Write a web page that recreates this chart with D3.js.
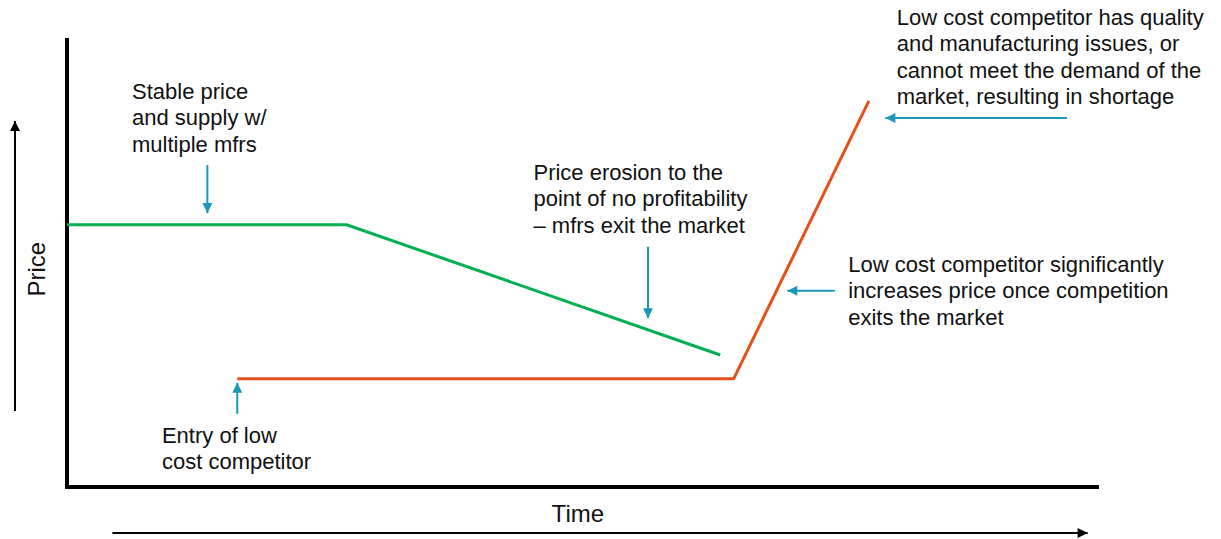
<!DOCTYPE html>
<html>
<head>
<meta charset="utf-8">
<script src="https://cdn.jsdelivr.net/npm/d3@7"></script>
<style>
  body { margin: 0; background: #fff; }
  svg text { font-family: "Liberation Sans", Arial, sans-serif; fill: #111; }
</style>
</head>
<body>
<script>
"use strict";

// series in abstract time / price units (0-100)
var greenTime = [0, 27.1, 63.3];
var greenPrice = [58.4, 58.4, 29.4];
var orangeTime = [16.5, 64.6, 77.7];
var orangePrice = [24.1, 24.1, 86.0];

// callout arrows: [x1, y1, x2, y2] in the same units, head at (x2,y2)
var calloutArrows = [
  [13.6, 71.7, 13.6, 61.0],
  [56.3, 53.5, 56.3, 37.6],
  [16.5, 16.3, 16.5, 23.2],
  [74.4, 43.7, 69.8, 43.7],
  [96.9, 82.2, 79.3, 82.2]
];

// callout texts: left x, first baseline y, lines
var calloutX = [6.3, 45.2, 9.2, 75.7, 80.4];
var calloutY = [86.5, 68.4, 9.8, 47.9, 102.9];
var calloutLines = [
  ["Stable price", "and supply w/", "multiple mfrs"],
  ["Price erosion to the", "point of no profitability", "\u2013 mfrs exit the market"],
  ["Entry of low", "cost competitor"],
  ["Low cost competitor significantly", "increases price once competition", "exits the market"],
  ["Low cost competitor has quality", "and manufacturing issues, or", "cannot meet the demand of the", "market, resulting in shortage"]
];

var axisLabels = ["Price", "Time"];

var width = 1221;
var height = 539;

var margin = { top: 38, left: 67, right: 122, bottom: 52 };

var xScale = d3.scaleLinear().domain([0, 100]).range([margin.left, width - margin.right]);
var yScale = d3.scaleLinear().domain([0, 100]).range([height - margin.bottom, margin.top]);

var green = "#00b050";
var orange = "#e5501c";
var teal = "#1b97ba";

var svg = d3.select("body").append("svg")
  .attr("width", width)
  .attr("height", height);

var defs = svg.append("defs");

function addHead(id, color, w, h) {
  defs.append("marker")
    .attr("id", id)
    .attr("viewBox", "0 0 10 10")
    .attr("refX", 10)
    .attr("refY", 5)
    .attr("markerUnits", "userSpaceOnUse")
    .attr("markerWidth", w)
    .attr("markerHeight", h)
    .attr("orient", "auto")
    .append("path")
    .attr("d", "M0,0 L10,5 L0,10 Z")
    .attr("fill", color);
}
addHead("headTeal", teal, 11, 10);
addHead("headBlack", "#000", 11, 10);

// axes: thick L
svg.append("path")
  .attr("d", "M" + xScale(0) + "," + yScale(100) + " V" + yScale(0) + " H" + xScale(100))
  .attr("fill", "none")
  .attr("stroke", "#000")
  .attr("stroke-width", 4);

// Price arrow (vertical, left)
svg.append("line")
  .attr("x1", 15).attr("x2", 15)
  .attr("y1", yScale(16.9)).attr("y2", yScale(81.5))
  .attr("stroke", "#000")
  .attr("stroke-width", 2)
  .attr("marker-end", "url(#headBlack)");

// Time arrow (horizontal, bottom)
svg.append("line")
  .attr("x1", xScale(4.4)).attr("x2", xScale(98.9))
  .attr("y1", 533).attr("y2", 533)
  .attr("stroke", "#000")
  .attr("stroke-width", 2)
  .attr("marker-end", "url(#headBlack)");

svg.append("text")
  .attr("transform", "translate(45," + yScale(48.5) + ") rotate(-90)")
  .attr("text-anchor", "middle")
  .style("font-size", "24px")
  .text(axisLabels[0]);

svg.append("text")
  .attr("x", xScale(49.5))
  .attr("y", 522)
  .attr("text-anchor", "middle")
  .style("font-size", "24px")
  .text(axisLabels[1]);

var line = d3.line()
  .x(function(d) { return xScale(d[0]); })
  .y(function(d) { return yScale(d[1]); });

svg.append("path")
  .datum(d3.zip(greenTime, greenPrice))
  .attr("d", line)
  .attr("fill", "none")
  .attr("stroke", green)
  .attr("stroke-width", 3);

svg.append("path")
  .datum(d3.zip(orangeTime, orangePrice))
  .attr("d", line)
  .attr("fill", "none")
  .attr("stroke", orange)
  .attr("stroke-width", 3);

svg.append("g").selectAll("line")
  .data(calloutArrows)
  .enter()
  .append("line")
  .attr("x1", function(d) { return xScale(d[0]); })
  .attr("y1", function(d) { return yScale(d[1]); })
  .attr("x2", function(d) { return xScale(d[2]); })
  .attr("y2", function(d) { return yScale(d[3]); })
  .attr("stroke", teal)
  .attr("stroke-width", 2)
  .attr("marker-end", "url(#headTeal)");

var notes = svg.append("g").selectAll("text")
  .data(calloutLines)
  .enter()
  .append("text")
  .attr("x", function(d, i) { return xScale(calloutX[i]); })
  .attr("y", function(d, i) { return yScale(calloutY[i]); })
  .style("font-size", "22px");

notes.selectAll("tspan")
  .data(function(d, i) { return d.map(function(t) { return { t: t, x: xScale(calloutX[i]) }; }); })
  .enter()
  .append("tspan")
  .attr("x", function(d) { return d.x; })
  .attr("dy", function(d, j) { return j === 0 ? 0 : 26.5; })
  .text(function(d) { return d.t; });
</script>
</body>
</html>
